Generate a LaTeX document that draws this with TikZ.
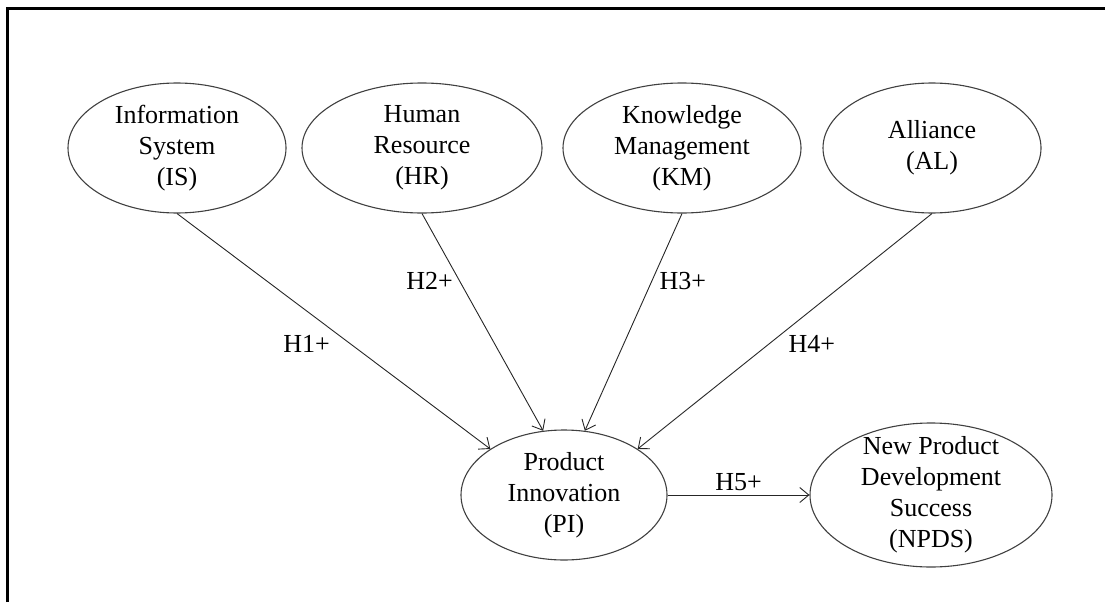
\documentclass[tikz,border=0pt]{standalone}
\usepackage{fontspec}
\setmainfont{Liberation Serif}
\usetikzlibrary{shapes.geometric, arrows.meta}
\tikzset{
  construct/.style = {ellipse, draw=black!75, line width=1.1pt, inner sep=0pt,
                      minimum height=130pt},
  ctext/.style     = {align=center, inner sep=0pt,
                      font=\fontsize{26}{31}\selectfont},
  hyp/.style       = {-{Straight Barb[length=9pt, width=15pt]},
                      draw=black!85, line width=0.9pt},
  hlabel/.style    = {font=\fontsize{26}{31}\selectfont},
}

\begin{document}
\begin{tikzpicture}[x=1pt, y=-1pt]
    \useasboundingbox (0,0) rectangle (1105,602);

    % frame (top and left edge only)
    \draw[line width=3pt] (7,602) -- (7,9) -- (1105,9);

    % ── Antecedents ───────────────────────────────────────────────
    \node[construct, minimum width=218pt,
          label={[ctext]center:Information\\System\\(IS)}] (is) at (177,148) {};
    \node[construct, minimum width=240pt,
          label={[ctext]center:Human\\Resource\\(HR)}] (hr) at (422,148) {};
    \node[construct, minimum width=238pt,
          label={[ctext]center:Knowledge\\Management\\(KM)}] (km) at (682,148) {};
    \node[construct, minimum width=218pt,
          label={[ctext]center:Alliance\\(AL)}] (al) at (932,148) {};

    % ── Outcomes ──────────────────────────────────────────────────
    \node[construct, minimum width=206pt,
          label={[ctext]center:Product\\Innovation\\(PI)}] (pi) at (564,495) {};
    \node[construct, minimum width=242pt, minimum height=144pt,
          label={[ctext]center:New Product\\Development\\Success\\(NPDS)}] (npds) at (931,495) {};

    % ── Hypotheses ────────────────────────────────────────────────
    \draw[hyp] (is.south) -- node[hlabel, pos=0.5, below left]{H1+} (pi.148);
    \draw[hyp] (hr.south) -- node[hlabel, pos=0.31, left=3pt]{H2+} (pi.108);
    \draw[hyp] (km.south) -- node[hlabel, pos=0.31, right=4pt]{H3+} (pi.72);
    \draw[hyp] (al.south) -- node[hlabel, pos=0.5, below right]{H4+} (pi.32);
    \draw[hyp] (pi) -- node[hlabel, above]{H5+} (npds);

\end{tikzpicture}
\end{document}
